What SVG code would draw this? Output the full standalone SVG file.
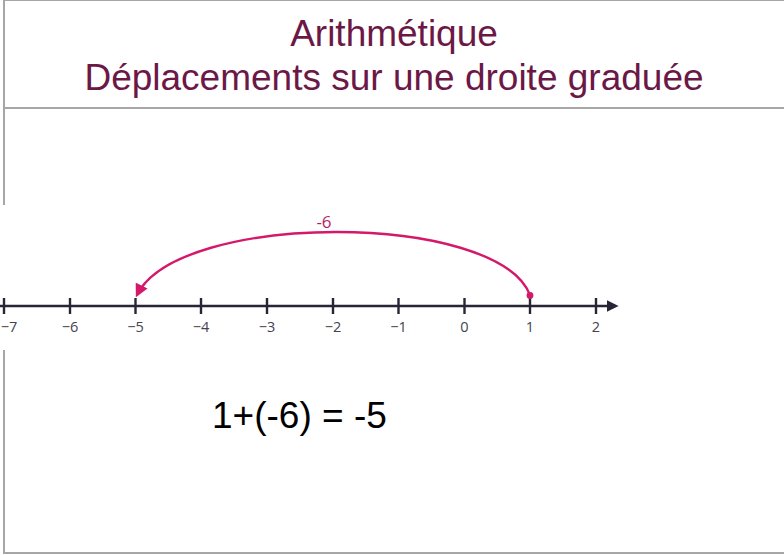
<svg xmlns="http://www.w3.org/2000/svg" width="784" height="555" viewBox="0 0 784 555">
  <style>
    .frame { stroke: #a6a6a6; stroke-width: 2; fill: none; }
    .title { font-family: "Liberation Sans", Arial, sans-serif; font-size: 37px; fill: #6b1847; text-anchor: middle; }
    .axis { stroke: #262636; stroke-width: 2.4; fill: none; }
    .tick { stroke: #262636; stroke-width: 2.4; }
    .lbl { font-family: "Open Sans", "DejaVu Sans", sans-serif; font-size: 14.5px; fill: #44444e; text-anchor: middle; }
    .jump { stroke: #d4196b; stroke-width: 2.4; fill: none; }
    .jlbl { font-family: "Open Sans", "DejaVu Sans", sans-serif; font-size: 17px; fill: #b81e5e; text-anchor: middle; }
    .eq { font-family: "Liberation Sans", Arial, sans-serif; font-size: 37px; fill: #000; }
  </style>
  <defs>
    <marker id="axisHead" viewBox="0 0 10 10" refX="2" refY="5" markerWidth="5" markerHeight="5" orient="auto" markerUnits="strokeWidth">
      <path d="M0,0 L10,5 L0,10 z" fill="#262636"/>
    </marker>
    <marker id="jumpHead" viewBox="0 0 10 10" refX="8" refY="5" markerWidth="5.5" markerHeight="5.5" orient="auto" markerUnits="strokeWidth">
      <path d="M0,0 L10,5 L0,10 z" fill="#d4196b"/>
    </marker>
  </defs>

  <rect x="0" y="0" width="784" height="555" fill="#ffffff"/>

  <g id="frame">
    <line class="frame" x1="4" y1="0" x2="784" y2="0"/>
    <line class="frame" x1="4" y1="0" x2="4" y2="205"/>
    <line class="frame" x1="4" y1="350" x2="4" y2="554"/>
    <line class="frame" x1="4" y1="108" x2="784" y2="108"/>
    <line class="frame" x1="4" y1="553" x2="784" y2="553"/>
  </g>

  <g id="title">
    <text class="title" x="394" y="46">Arithmétique</text>
    <text class="title" x="394" y="90">Déplacements sur une droite graduée</text>
  </g>

  <g id="numberline">
    <line class="axis" x1="0" y1="306" x2="609" y2="306" marker-end="url(#axisHead)"/>
    <g class="tick">
      <line x1="4" y1="298" x2="4" y2="314"/>
      <line x1="70" y1="298" x2="70" y2="314"/>
      <line x1="135.5" y1="298" x2="135.5" y2="314"/>
      <line x1="201" y1="298" x2="201" y2="314"/>
      <line x1="267" y1="298" x2="267" y2="314"/>
      <line x1="333" y1="298" x2="333" y2="314"/>
      <line x1="398.5" y1="298" x2="398.5" y2="314"/>
      <line x1="464.5" y1="298" x2="464.5" y2="314"/>
      <line x1="530" y1="298" x2="530" y2="314"/>
      <line x1="596" y1="298" x2="596" y2="314"/>
    </g>
    <g class="lbl">
      <text x="9" y="332">−7</text>
      <text x="70" y="332">−6</text>
      <text x="135.5" y="332">−5</text>
      <text x="201" y="332">−4</text>
      <text x="267" y="332">−3</text>
      <text x="333" y="332">−2</text>
      <text x="398.5" y="332">−1</text>
      <text x="464.5" y="332">0</text>
      <text x="530" y="332">1</text>
      <text x="596" y="332">2</text>
    </g>
  </g>

  <g id="connectors">
    <path class="jump" d="M530,295 C497,211 178,211 137,295" marker-end="url(#jumpHead)"/>
    <circle cx="530" cy="295.5" r="3.4" fill="#d4196b"/>
    <text class="jlbl" x="324" y="228">-6</text>
  </g>

  <g id="equation">
    <text class="eq" x="212" y="428">1+(-6) = -5</text>
  </g>
</svg>
